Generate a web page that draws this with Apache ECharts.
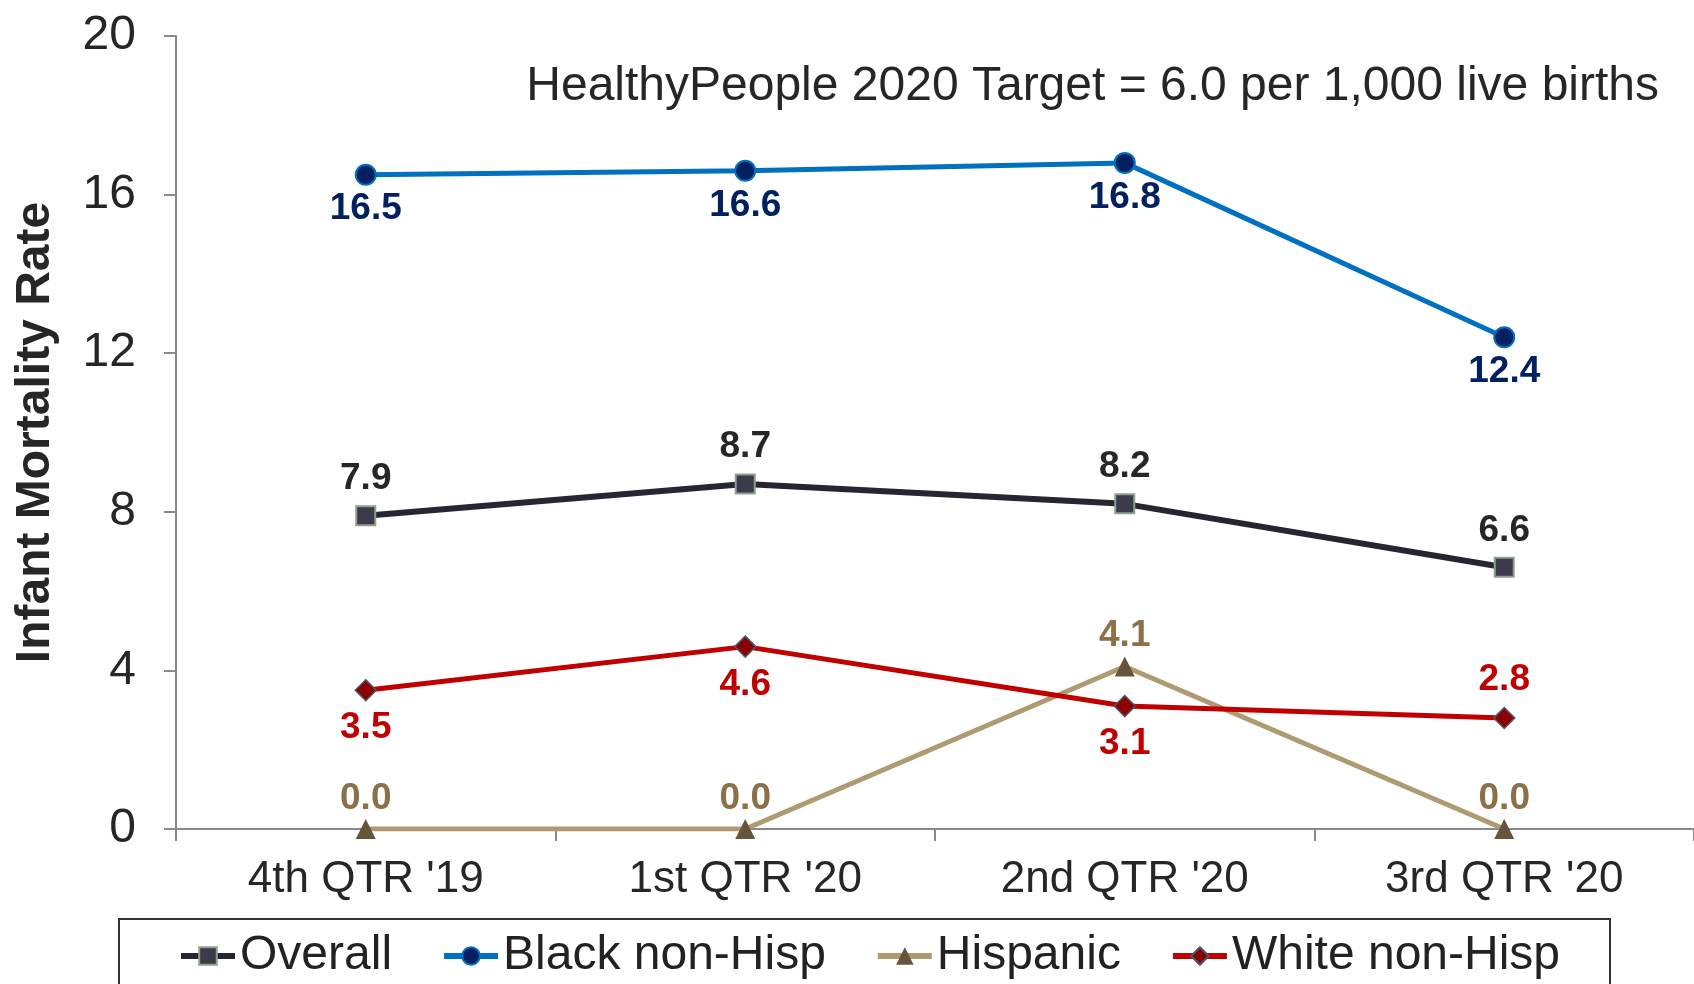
<!DOCTYPE html>
<html>
<head>
<meta charset="utf-8">
<script src="https://cdn.jsdelivr.net/npm/echarts@6/dist/echarts.min.js"></script>
<style>
  html, body { margin: 0; padding: 0; background: #fff; }
  #chart { width: 1694px; height: 984px; }
</style>
</head>
<body>
<div id="chart"></div>
<script>
var quarters = ["4th QTR '19", "1st QTR '20", "2nd QTR '20", "3rd QTR '20"];
var overall = [7.9, 8.7, 8.2, 6.6];
var blackNonHisp = [16.5, 16.6, 16.8, 12.4];
var hispanic = [0.0, 0.0, 4.1, 0.0];
var whiteNonHisp = [3.5, 4.6, 3.1, 2.8];
var targetText = 'HealthyPeople 2020 Target = 6.0 per 1,000 live births';

var font = 'Liberation Sans, Arial, sans-serif';

function withLabels(values, positions) {
  // label placement per point (above / below)
  return values.map(function (v, i) {
    return { value: v, label: { position: positions[i] } };
  });
}

function labelStyle(color, dist) {
  return {
    show: true,
    fontFamily: font,
    fontWeight: 'bold',
    fontSize: 37,
    color: color,
    distance: dist,
    formatter: function (p) { return p.value.toFixed(1); }
  };
}

var chart = echarts.init(document.getElementById('chart'));
var option = {
  backgroundColor: '#fff',
  animation: false,
  title: {
    text: targetText,
    right: 30,
    top: 58,
    textStyle: { fontFamily: font, fontSize: 48, fontWeight: 'normal', color: '#262626' }
  },
  grid: { left: 176, top: 36, width: 1524, bottom: 155 },
  graphic: [{
    type: 'rect',
    shape: { x: 119, y: 919, width: 1491, height: 90 },
    style: { fill: 'none', stroke: '#333', lineWidth: 2 },
    z: 0
  }],
  legend: {
    left: 173,
    top: 927,
    itemWidth: 54,
    itemHeight: 22,
    itemGap: 49,
    lineStyle: { width: 6 },
    textStyle: { fontFamily: font, fontSize: 48, color: '#222' },
    data: ['Overall', 'Black non-Hisp', 'Hispanic', 'White non-Hisp']
  },
  xAxis: {
    type: 'category',
    data: quarters,
    axisLine: { lineStyle: { color: '#898989', width: 2 } },
    axisTick: { show: true, length: 12, lineStyle: { color: '#898989', width: 2 } },
    axisLabel: { margin: 29, fontFamily: font, fontSize: 44, color: '#262626' }
  },
  yAxis: {
    type: 'value',
    min: 0,
    max: 20,
    interval: 4,
    name: 'Infant Mortality Rate',
    nameLocation: 'middle',
    nameGap: 116,
    nameTextStyle: { fontFamily: font, fontSize: 48, fontWeight: 'bold', color: '#262626' },
    axisLine: { show: true, lineStyle: { color: '#898989', width: 2 } },
    axisTick: { show: true, length: 12, lineStyle: { color: '#898989', width: 2 } },
    axisLabel: { margin: 40, fontFamily: font, fontSize: 48, color: '#262626' },
    splitLine: { show: false }
  },
  series: [{
    name: 'Overall',
    type: 'line',
    data: withLabels(overall, ['top', 'top', 'top', 'top']),
    symbol: 'rect',
    symbolSize: 19,
    lineStyle: { color: '#262632', width: 6 },
    itemStyle: { color: '#3b3b4b', borderColor: '#8fa08f', borderWidth: 2 },
    label: labelStyle('#262626', 8),
    z: 3
  }, {
    name: 'Black non-Hisp',
    type: 'line',
    data: withLabels(blackNonHisp, ['bottom', 'bottom', 'bottom', 'bottom']),
    symbol: 'circle',
    symbolSize: 20,
    lineStyle: { color: '#0070C0', width: 5 },
    itemStyle: { color: '#002060', borderColor: '#0070C0', borderWidth: 2 },
    label: labelStyle('#002060', 5),
    z: 3
  }, {
    name: 'Hispanic',
    type: 'line',
    data: withLabels(hispanic, ['top', 'top', 'top', 'top']),
    symbol: 'triangle',
    symbolSize: 20,
    lineStyle: { color: '#B09A72', width: 5 },
    itemStyle: { color: '#66553b' },
    label: labelStyle('#8B7048', 2),
    z: 2
  }, {
    name: 'White non-Hisp',
    type: 'line',
    data: withLabels(whiteNonHisp, ['bottom', 'bottom', 'bottom', 'top']),
    symbol: 'diamond',
    symbolSize: 21,
    lineStyle: { color: '#C00000', width: 5 },
    itemStyle: { color: '#8B0000', borderColor: '#4a5a6a', borderWidth: 1.5 },
    label: labelStyle('#C00000', 8),
    z: 3
  }]
};
chart.setOption(option);
</script>
</body>
</html>
